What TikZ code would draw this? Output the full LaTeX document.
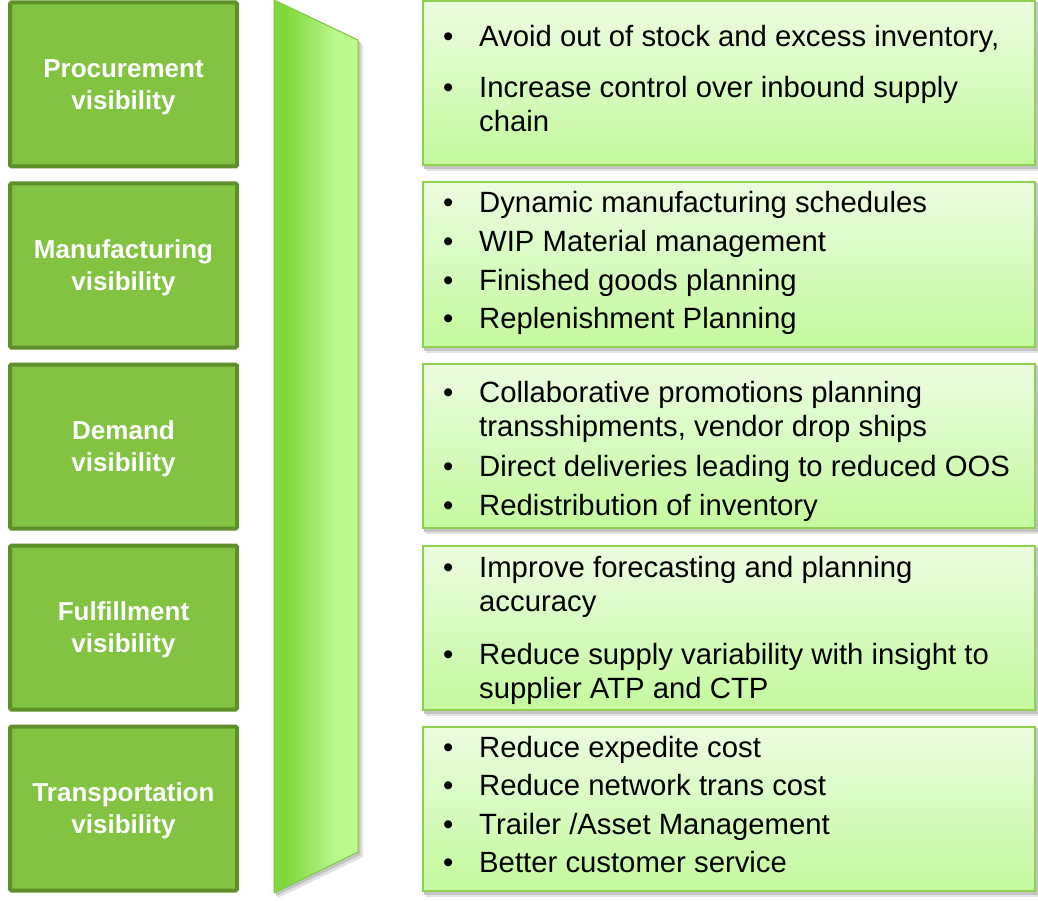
\documentclass[tikz,border=0pt]{standalone}
\usepackage{fontspec}
\setmainfont{Liberation Sans}
\usepackage{tikz}
\usetikzlibrary{positioning}
\definecolor{leftFill}{RGB}{130,195,65}
\definecolor{leftLine}{RGB}{94,143,42}
\definecolor{bandL}{RGB}{128,216,59}
\definecolor{bandR}{RGB}{187,249,140}
\definecolor{bandLine}{RGB}{124,200,62}
\definecolor{boxTop}{RGB}{235,252,224}
\definecolor{boxBot}{RGB}{196,249,158}
\definecolor{boxLine}{RGB}{142,209,80}
\definecolor{shadowOut}{RGB}{226,226,226}
\definecolor{shadowIn}{RGB}{196,196,196}
\pgfdeclarehorizontalshading{bandshade}{100bp}{color(0bp)=(bandL); color(32bp)=(bandL); color(62bp)=(bandR); color(100bp)=(bandR)}
\newcommand{\bul}{\makebox[36pt][l]{\strut\textbullet}}
\newcommand{\cont}{\hspace*{36pt}\strut}

\begin{document}
\begin{tikzpicture}[
    x=1pt, y=-1pt,
    area/.style={%
      draw=leftLine,
      fill=leftFill,
      line width=4pt,
      rounded corners=1.5pt,
      minimum width=227pt,
      minimum height=164pt,
      align=center,
      text depth=0pt,
      text=white,
      font=\bfseries\fontsize{26}{32}\selectfont,
    },
    gain/.style={%
      draw=boxLine,
      line width=2pt,
      top color=boxTop,
      bottom color=boxBot,
      minimum width=612pt,
      minimum height=164pt,
    },
    points/.style={%
      anchor=north west,
      inner sep=0pt,
      align=left,
      font=\fontsize{29.3}{34}\selectfont,
    },
  ]

    \useasboundingbox (0,0) rectangle (1038,901);

    \node [area] (P) at (123.5,84.5) {Procurement\\visibility};
    \path (P) ++(0,181) node [area] (M) {Manufacturing\\visibility};
    \path (M) ++(0,181) node [area] (D) {Demand\\visibility};
    \path (D) ++(0,181) node [area] (F) {Fulfillment\\visibility};
    \path (F) ++(0,181) node [area] (T) {Transportation\\visibility};

    \fill [shadowOut] (278,5) -- (363,45) -- (363,857) -- (278,898) -- cycle;
    \fill [shadowIn] (276,2.5) -- (360.5,42.5) -- (360.5,855) -- (276,896) -- cycle;
    \path [draw=bandLine, line width=1pt, shading=bandshade]
      (274,0) -- (358,40) -- (358,852) -- (274,893) -- cycle;

    \foreach \cy in {83,264.5,446,627.5,809} {
      \fill [shadowOut] (426,\cy-79) rectangle (1038,\cy+88);
      \fill [shadowIn] (424,\cy-81) rectangle (1038,\cy+86);
    }

    \node [gain] (PG) at (729,83) {};
    \path (PG) ++(0,181.5) node [gain] (MG) {};
    \path (MG) ++(0,181.5) node [gain] (DG) {};
    \path (DG) ++(0,181.5) node [gain] (FG) {};
    \path (FG) ++(0,181.5) node [gain] (TG) {};

    \node [points] (PT) at (443,22.2) {%
      \bul Avoid out of stock and excess inventory,\\[17pt]
      \bul Increase control over inbound supply\\
      \cont chain};
    \node [points] (MT) at (443,188.2) {%
      \bul Dynamic manufacturing schedules\\[5pt]
      \bul WIP Material management\\[5pt]
      \bul Finished goods planning\\[4.5pt]
      \bul Replenishment Planning};
    \node [points] (DT) at (443,378.2) {%
      \bul Collaborative promotions planning\\
      \cont transshipments, vendor drop ships\\[6pt]
      \bul Direct deliveries leading to reduced OOS\\[5pt]
      \bul Redistribution of inventory};
    \node [points] (FT) at (443,553.2) {%
      \bul Improve forecasting and planning\\
      \cont accuracy\\[19pt]
      \bul Reduce supply variability with insight to\\
      \cont supplier ATP and CTP};
    \node [points] (TT) at (443,733.2) {%
      \bul Reduce expedite cost\\[4.5pt]
      \bul Reduce network trans cost\\[5pt]
      \bul Trailer /Asset Management\\[4pt]
      \bul Better customer service};

\end{tikzpicture}
\end{document}
